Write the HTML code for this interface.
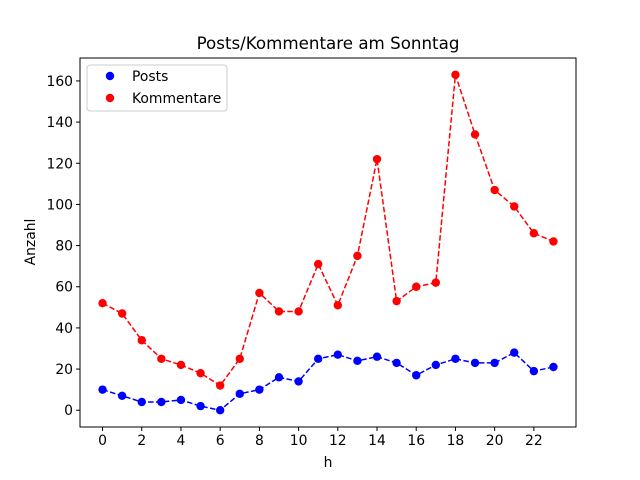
<!DOCTYPE html>
<html><head><meta charset="utf-8"><style>
body{margin:0;background:#fff;}
svg{display:block;font-family:"DejaVu Sans","Liberation Sans",sans-serif;}
</style></head><body>
<svg id="chart" width="640" height="480" viewBox="0 0 640 480">
<rect width="640" height="480" fill="#fff"/>
<text x="328" y="49" font-size="16.7" text-anchor="middle">Posts/Kommentare am Sonntag</text>
<g id="plot"></g>
<rect x="80" y="58" width="496" height="369" fill="none" stroke="#000" stroke-width="1"/>
<text x="328" y="467" font-size="13.9" text-anchor="middle">h</text>
<text transform="translate(35,242) rotate(-90)" font-size="13.9" text-anchor="middle">Anzahl</text>
<g>
<rect x="87" y="65" width="140" height="46" rx="3" fill="#fff" stroke="#ccc"/>
<circle cx="110" cy="76" r="4.2" fill="blue"/>
<text x="132" y="81" font-size="13.9">Posts</text>
<circle cx="110" cy="98" r="4.2" fill="red"/>
<text x="132" y="103" font-size="13.9">Kommentare</text>
</g>
</svg>
<script>
const hours=[0,1,2,3,4,5,6,7,8,9,10,11,12,13,14,15,16,17,18,19,20,21,22,23];
const posts=[10,7,4,4,5,2,0,8,10,16,14,25,27,24,26,23,17,22,25,23,23,28,19,21];
const kommentare=[52,47,34,25,22,18,12,25,57,48,48,71,51,75,122,53,60,62,163,134,107,99,86,82];
const xTicks=[0,2,4,6,8,10,12,14,16,18,20,22];
const yTicks=[0,20,40,60,80,100,120,140,160];
const NS="http://www.w3.org/2000/svg";
const L=80,R=576,T=58,B=427;
const xmin=-1.15,xmax=24.15;
const allv=posts.concat(kommentare);
const vmin=Math.min(...allv),vmax=Math.max(...allv),pad=(vmax-vmin)*0.05;
const ymin=vmin-pad,ymax=vmax+pad;
const sx=v=>L+(v-xmin)/(xmax-xmin)*(R-L);
const sy=v=>B-(v-ymin)/(ymax-ymin)*(B-T);
const g=document.getElementById('plot');
function mk(tag,attrs){const e=document.createElementNS(NS,tag);for(const k in attrs)e.setAttribute(k,attrs[k]);g.appendChild(e);return e;}
xTicks.forEach(t=>{
 const l=mk('line',{x1:sx(t),x2:sx(t),y1:B,y2:B+4,stroke:'#000'});
 
 
 const tx=mk('text',{x:sx(t),y:B+18,'font-size':13.9,'text-anchor':'middle'});tx.textContent=t;
 
 
});
yTicks.forEach(t=>{
 const l=mk('line',{x1:L-4,x2:L,y1:sy(t),y2:sy(t),stroke:'#000'});
 
 
 const tx=mk('text',{x:L-7,y:sy(t)+5,'font-size':13.9,'text-anchor':'end'});tx.textContent=t;
 
 
});
function series(vals,color,name){
 const pl=mk('polyline',{points:vals.map((v,i)=>sx(hours[i])+','+sy(v)).join(' '),fill:'none',stroke:color,'stroke-width':1.5,'stroke-dasharray':'5.5,2.4'});
 
 
 vals.forEach((v,i)=>{
  const c=mk('circle',{cx:sx(hours[i]),cy:sy(v),r:4.2,fill:color});
  
  
 });
}
series(posts,'blue','posts');
series(kommentare,'red','kommentare');
</script>
</body></html>
